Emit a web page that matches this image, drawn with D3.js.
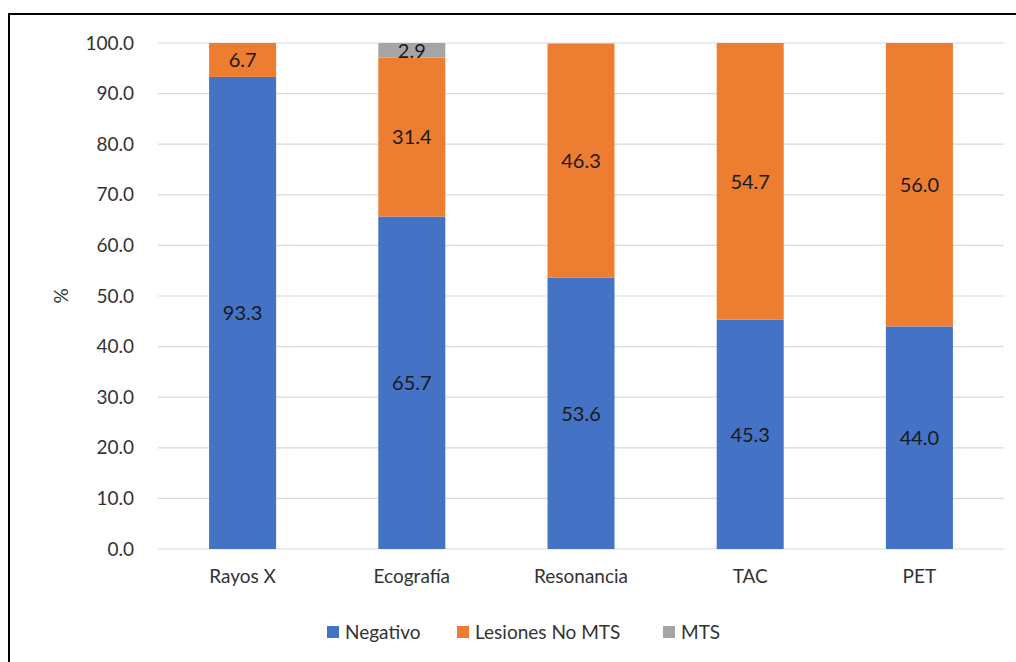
<!DOCTYPE html>
<html>
<head>
<meta charset="utf-8">
<script src="https://cdn.jsdelivr.net/npm/d3@7"></script>
<style>
  html, body { margin: 0; padding: 0; background: #fff; }
  svg { display: block; }
  text { font-family: Lato, "Open Sans", sans-serif; }
</style>
</head>
<body>
<script>
// Categories and stacked series (percentages)
const categories = ["Rayos X", "Ecografía", "Resonancia", "TAC", "PET"];
const negativo   = [93.3, 65.7, 53.6, 45.3, 44.0];
const lesiones   = [6.7, 31.4, 46.3, 54.7, 56.0];
const mts        = [0, 2.9, 0, 0, 0];
const seriesNames = ["Negativo", "Lesiones No MTS", "MTS"];
const yTicks = [0, 10, 20, 30, 40, 50, 60, 70, 80, 90, 100];

const colors = ["#4472C4", "#ED7D31", "#A5A5A5"];
const W = 1016, H = 662;
const margin = { left: 158, right: 12, top: 43, bottom: 113 };
const textColor = "#333333";

const svg = d3.select("body").append("svg").attr("width", W).attr("height", H);

// outer chart frame
svg.append("rect")
  .attr("x", 9).attr("y", 14)
  .attr("width", W + 10).attr("height", H + 10)
  .attr("fill", "none").attr("stroke", "#000").attr("stroke-width", 2);

const x = d3.scaleBand().domain(categories)
  .range([margin.left, W - margin.right]).paddingInner(0.604).paddingOuter(0.302);
const y = d3.scaleLinear().domain([0, 100]).range([H - margin.bottom, margin.top]);

// gridlines
svg.append("g").selectAll("line").data(yTicks).join("line")
  .attr("x1", margin.left).attr("x2", W - margin.right)
  .attr("y1", d => y(d)).attr("y2", d => y(d))
  .attr("stroke", "#d9d9d9").attr("stroke-width", 1.2);

// y axis tick labels
const yAxis = d3.axisLeft(y).tickValues(yTicks).tickFormat(d3.format(".1f")).tickSize(0).tickPadding(24);
const gy = svg.append("g").attr("transform", `translate(${margin.left},0)`).call(yAxis);
gy.select(".domain").remove();
gy.selectAll("text").attr("font-size", 19).attr("fill", textColor)
  .style("font-family", "Lato, 'Open Sans', sans-serif");

// x axis labels
const xAxis = d3.axisBottom(x).tickSize(0).tickPadding(21);
const gx = svg.append("g").attr("transform", `translate(0,${y(0)})`).call(xAxis);
gx.select(".domain").remove();
gx.selectAll("text").attr("font-size", 19).attr("fill", textColor)
  .style("font-family", "Lato, 'Open Sans', sans-serif");

// y axis title
svg.append("text")
  .attr("transform", `translate(68,${(y(0) + y(100)) / 2}) rotate(-90)`)
  .attr("text-anchor", "middle").attr("font-size", 19).attr("fill", textColor)
  .text("%");

// stacked data
const rows = categories.map((c, i) => ({ cat: c, Negativo: negativo[i], "Lesiones No MTS": lesiones[i], MTS: mts[i] }));
const stacked = d3.stack().keys(seriesNames)(rows);

const layers = svg.append("g").selectAll("g").data(stacked).join("g")
  .attr("fill", (d, i) => colors[i]);

layers.selectAll("rect").data(d => d).join("rect")
  .attr("x", d => x(d.data.cat))
  .attr("width", x.bandwidth())
  .attr("y", d => y(d[1]))
  .attr("height", d => y(d[0]) - y(d[1]));

// value labels
layers.selectAll("text").data(d => d.filter(s => s[1] - s[0] > 0)).join("text")
  .attr("x", d => x(d.data.cat) + x.bandwidth() / 2)
  .attr("y", d => (y(d[0]) + y(d[1])) / 2)
  .attr("dy", "0.36em")
  .attr("text-anchor", "middle")
  .attr("font-size", 20)
  .attr("fill", "#1a1a1a")
  .text(d => d3.format(".1f")(d[1] - d[0]));

// legend
const legendX = [327, 457, 663];
const lg = svg.append("g").selectAll("g").data(seriesNames).join("g")
  .attr("transform", (d, i) => `translate(${legendX[i]},632)`);
lg.append("rect").attr("x", 0).attr("y", -6).attr("width", 12).attr("height", 12)
  .attr("fill", (d, i) => colors[i]);
lg.append("text").attr("x", 18).attr("dy", "0.36em")
  .attr("font-size", 19).attr("fill", textColor).text(d => d);
</script>
</body>
</html>
